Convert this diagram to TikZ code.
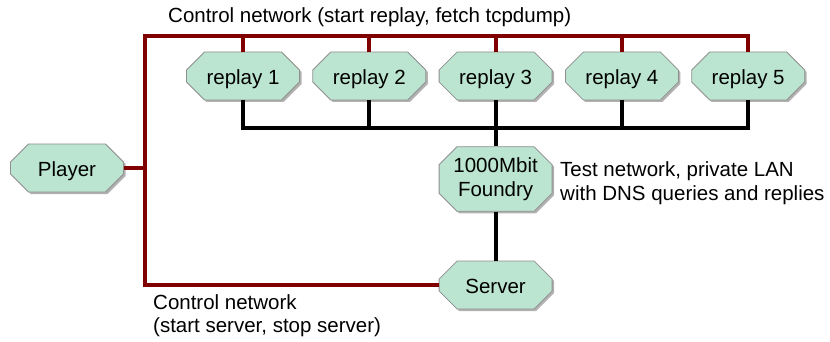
\documentclass[tikz,border=0pt]{standalone}
\usepackage{fontspec}
\setmainfont{Liberation Sans}
\usetikzlibrary{positioning, shapes.misc, shadows}
\definecolor{boxfill}{HTML}{BBE5D1}
\definecolor{boxline}{HTML}{8F8F8F}
\definecolor{ctrlred}{HTML}{800000}
\tikzset{
  nw box/.style={chamfered rectangle, chamfered rectangle xsep=9pt,
    chamfered rectangle ysep=9pt, draw=boxline, fill=boxfill, line width=0.8pt,
    minimum width=113pt, minimum height=48pt, inner sep=2pt, align=center,
    drop shadow={shadow xshift=2pt, shadow yshift=-2pt, fill=black!30, opacity=1}},
  nw host/.style={nw box, text height=20pt, text depth=3.5pt},
  ctrl link/.style={draw=ctrlred, line width=4pt},
  test link/.style={draw=black, line width=4pt},
  nw note/.style={align=left, inner sep=0pt},
}
\begin{document}
\begin{tikzpicture}[x=1pt, y=-1pt, font=\fontsize{20.5}{23.5}\selectfont,
  node distance=12.5pt]
 \useasboundingbox (0,0) rectangle (830,342);
 % hosts
 \node[nw host] (player) at (67,168) {Player};
 \node[nw host] (rep1) at (243,76) {replay 1};
 \foreach \i [remember=\i as \lasti (initially 1)] in {2,...,5}
   \node[nw host, right=of rep\lasti] (rep\i) {replay \i};
 \node[nw box, minimum height=52pt] (foundry) at (rep3 |- 0,179) {1000Mbit\\Foundry};
 \node[nw host] (server) at (rep3 |- 0,285) {Server};
 % control network
 \coordinate (bus) at (145,36);
 \draw[ctrl link] (rep5.north) |- (bus) |- (server.west);
 \foreach \i in {1,...,4}
   \draw[ctrl link] (rep\i.north) -- (rep\i.north |- bus);
 \draw[ctrl link] (player.east) -- (player.east -| bus);
 % test network
 \draw[test link] (rep1.south) -- ++(0,28) coordinate (lan) -| (rep5.south);
 \foreach \i in {2,3,4}
   \draw[test link] (rep\i.south) -- (rep\i.south |- lan);
 \draw[test link] (rep3.south |- lan) -- (foundry.north);
 \draw[test link] (foundry.south) -- (server.north);
 % notes
 \node[nw note, anchor=west] (topnote) at (168,17) {Control network (start replay, fetch tcpdump)};
 \node[nw note, anchor=west] (lannote) at (560,183)
   {Test network, private LAN\\with DNS queries and replies};
 \node[nw note, anchor=north west] (botnote) at (153,294)
   {Control network\\(start server, stop server)};
\end{tikzpicture}
\end{document}
